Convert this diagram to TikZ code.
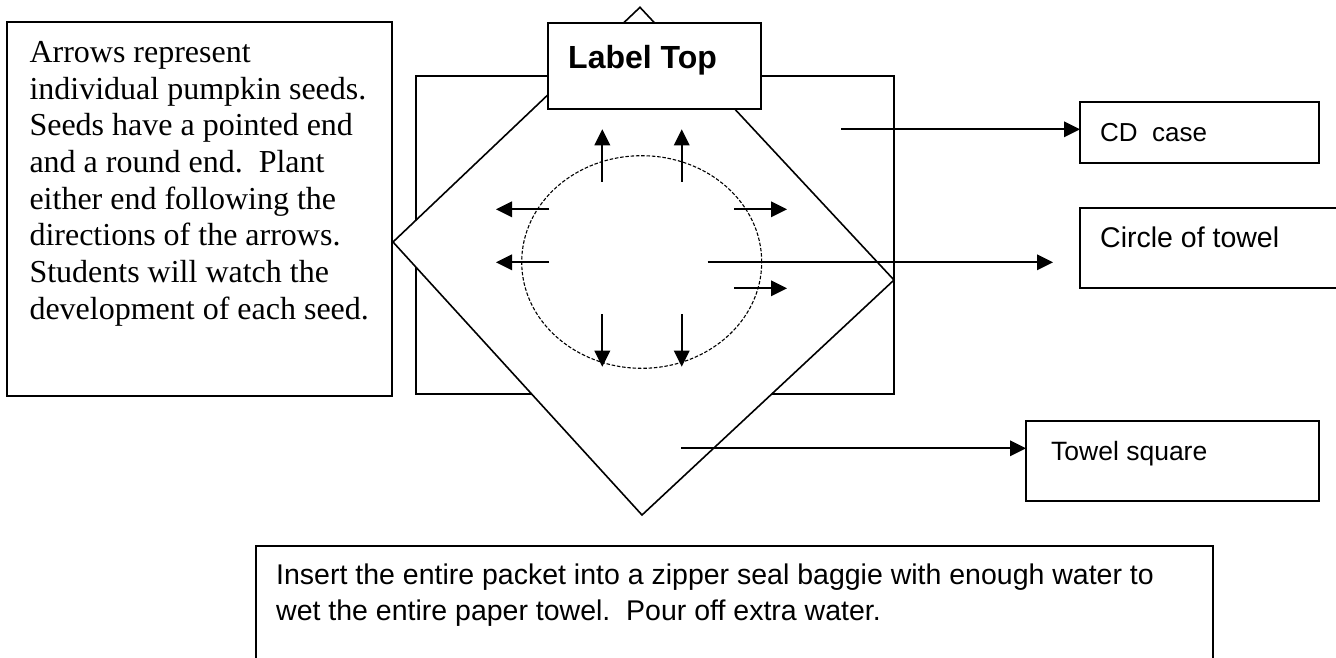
\documentclass[tikz,border=0pt]{standalone}
\usepackage{fontspec}
\setmainfont{Liberation Serif}
\newfontfamily\comic{Liberation Sans}
\usetikzlibrary{arrows.meta,shapes.geometric}
\begin{document}
\begin{tikzpicture}[x=1pt,y=-1pt,
  box/.style={draw, line width=1.9pt, fill=white, inner sep=0pt, outer sep=0pt, anchor=north west},
  edge/.style={line width=1.6pt, line join=miter},
  arr/.style={line width=1.7pt, -{Triangle[length=16pt,width=15.5pt]}},
  lbl/.style={inner sep=0pt, anchor=base west, font=\comic},
  seedline/.style={dashed, line width=1.1pt, dash pattern=on 3.5pt off 1.8pt}]
\useasboundingbox (0,0) rectangle (1336,657);
\clip (0,0) rectangle (1336,657);
\frenchspacing
% left explanation box
\node[box, minimum width=385pt, minimum height=374pt] (info) at (7,22) {};
\node[inner sep=0pt, anchor=base west, align=left,
      font=\fontsize{32}{36.7}\selectfont] (infotext) at (29.3,319.3)
  {Arrows represent\\individual pumpkin seeds.\\Seeds have a pointed end\\and a round end.\ \ Plant\\either end following the\\directions of the arrows.\\Students will watch the\\development of each seed.};
% CD case rectangle
\node[box, line width=1.8pt, minimum width=478pt, minimum height=318pt] (cdrect) at (416,76) {};
% towel square (diamond)
\coordinate (dtop) at (640,7.3);
\coordinate (dright) at (894,280);
\coordinate (dbottom) at (642,515);
\coordinate (dleft) at (393,242);
\draw[edge, fill=white] (dtop) -- (dright) -- (dbottom) -- (dleft) -- cycle;
% label top
\node[box, minimum width=212.7pt, minimum height=86.6pt] (labeltop) at (548.3,22.7) {};
\node[lbl, font=\comic\bfseries\fontsize{32}{36}\selectfont] (labeltoptext) at (568,68) {Label Top};
% circle of towel
\node[draw, seedline, ellipse, minimum width=240pt, minimum height=212.6pt, inner sep=0pt] (towelcircle) at (641.7,262) {};
% seed arrows
\coordinate (u1) at (602.3,181.7); \coordinate (u1t) at (602.3,129.3);
\coordinate (u2) at (681.7,181.7); \coordinate (u2t) at (681.7,129.3);
\coordinate (d1) at (602.3,314.3); \coordinate (d1t) at (602.3,366.7);
\coordinate (d2) at (681.7,314.3); \coordinate (d2t) at (681.7,366.7);
\coordinate (l1) at (549,209.3); \coordinate (l1t) at (496,209.3);
\coordinate (l2) at (549,262.3); \coordinate (l2t) at (496,262.3);
\coordinate (r1) at (734,209.3); \coordinate (r1t) at (787,209.3);
\coordinate (r2) at (734,288.3); \coordinate (r2t) at (787,288.3);
\foreach \a in {u1,u2,d1,d2,l1,l2,r1,r2} \draw[arr] (\a) -- (\a t);
% right labels
\node[box, minimum width=239.3pt, minimum height=60.4pt] (cdbox) at (1080,102.3) {};
\node[lbl, font=\comic\fontsize{26}{30}\selectfont] (cdtext) at (1100,141.7) {CD\ \ case};
\node[box, minimum width=300pt, minimum height=80pt] (circlebox) at (1080,208.3) {};
\node[lbl, font=\comic\fontsize{28.5}{32}\selectfont] (circletext) at (1100,247.7) {Circle of towel};
\node[box, minimum width=293.3pt, minimum height=79.7pt] (towelbox) at (1026,421) {};
\node[lbl, font=\comic\fontsize{26.5}{30}\selectfont] (toweltext) at (1051,460.7) {Towel square};
% connectors
\coordinate (cdtail) at (841,129.3);
\draw[arr] (cdtail) -- (cdtail -| cdbox.west);
\coordinate (circletail) at (707.7,262.3);
\coordinate (circletip) at (1053,262.3);
\draw[arr] (circletail) -- (circletip);
\coordinate (toweltail) at (681,448.3);
\draw[arr] (toweltail) -- (toweltail -| towelbox.west);
% bottom instruction box
\node[box, minimum width=957.3pt, minimum height=150pt] (bottombox) at (256,545.7) {};
\node[inner sep=0pt, anchor=base west, align=left, font=\comic\fontsize{28.5}{36.7}\selectfont] (bottomtext) at (276,620.7)
  {Insert the entire packet into a zipper seal baggie with enough water to\\wet the entire paper towel.\ \ Pour off extra water.};
\end{tikzpicture}
\end{document}
